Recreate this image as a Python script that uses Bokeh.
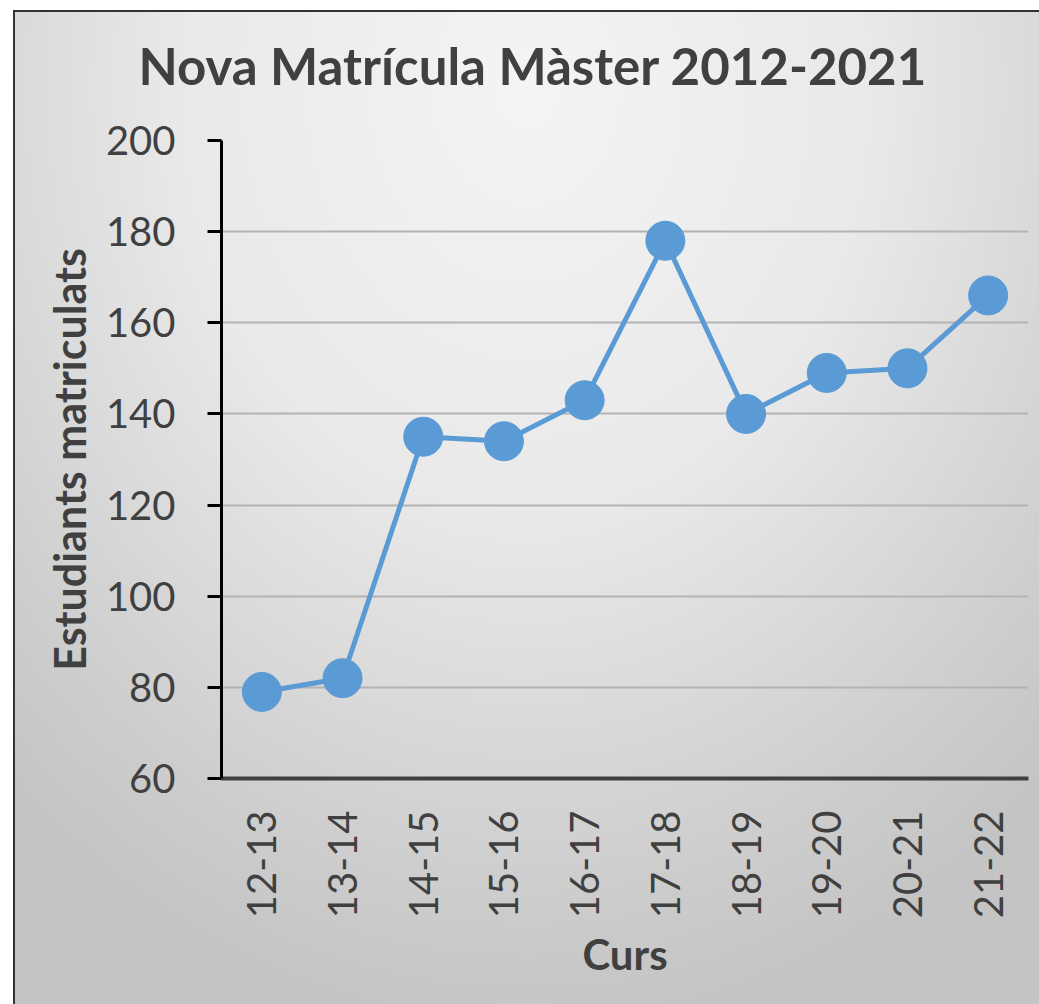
import math
from bokeh.plotting import figure
from bokeh.models import Range1d, FactorRange, Title
from bokeh.embed import file_html
from bokeh.resources import INLINE

cursos = ["12-13", "13-14", "14-15", "15-16", "16-17", "17-18", "18-19", "19-20", "20-21", "21-22"]
estudiants = [79, 82, 135, 134, 143, 178, 140, 149, 150, 166]
y_ticks = [60, 80, 100, 120, 140, 160, 180, 200]

TXT = "#404040"
FONT = "Lato"

p = figure(
    width=1026, height=994,
    x_range=FactorRange(*cursos, range_padding=0),
    y_range=Range1d(60, 200),
    output_backend="svg", toolbar_location=None,
    title="Nova Matrícula Màster 2012-2021",
    min_border_left=208, min_border_top=130, min_border_right=11, min_border_bottom=226,
)
p.margin = (10, 0, 0, 13)
p.border_fill_color = None
p.background_fill_color = None
p.outline_line_color = None
p.styles = {
    "background": "radial-gradient(ellipse 75% 95% at 50% 8%, #f4f4f4 0%, #e9e9e9 45%, #cdcdcd 85%, #c4c4c4 100%)",
    "box-shadow": "inset 2px 2px 0 0 #333333",
}

p.title.text_font = FONT
p.title.text_font_style = "bold"
p.title.text_font_size = "51px"
p.title.text_color = TXT
p.title.align = "left"
p.title.vertical_align = "top"
p.title.offset = -83
p.title.standoff = 0

# empty spacer between the title and the plot area
p.add_layout(Title(text=" ", text_font_size="10px", standoff=30), "above")

p.line(x=cursos, y=estudiants, line_color="#5b9bd5", line_width=5)
p.scatter(x=cursos, y=estudiants, size=39, fill_color="#5b9bd5", line_color="#5b9bd5")

p.yaxis.ticker = y_ticks
p.yaxis.axis_line_color = "black"
p.yaxis.axis_line_width = 3
p.yaxis.major_tick_line_color = "black"
p.yaxis.major_tick_line_width = 3
p.yaxis.major_tick_out = 14
p.yaxis.major_tick_in = 0
p.yaxis.minor_tick_line_color = None
p.yaxis.major_label_standoff = 32
p.yaxis.major_label_text_font = FONT
p.yaxis.major_label_text_font_size = "40px"
p.yaxis.major_label_text_color = TXT
p.yaxis.axis_label = "Estudiants matriculats"
p.yaxis.axis_label_text_font = FONT
p.yaxis.axis_label_text_font_style = "bold"
p.yaxis.axis_label_text_font_size = "43px"
p.yaxis.axis_label_text_color = TXT
p.yaxis.axis_label_standoff = 8

p.xaxis.axis_line_color = "#404040"
p.xaxis.axis_line_width = 4
p.xaxis.major_tick_line_color = None
p.xaxis.major_tick_out = 0
p.xaxis.major_tick_in = 0
p.xaxis.major_label_orientation = math.pi / 2
p.xaxis.major_label_standoff = 32
p.xaxis.major_label_text_font = FONT
p.xaxis.major_label_text_font_size = "40px"
p.xaxis.major_label_text_color = TXT
p.xaxis.axis_label = "Curs"
p.xaxis.axis_label_text_font = FONT
p.xaxis.axis_label_text_font_style = "bold"
p.xaxis.axis_label_text_font_size = "42px"
p.xaxis.axis_label_text_color = TXT
p.xaxis.axis_label_standoff = 8

p.xgrid.grid_line_color = None
p.ygrid.ticker = y_ticks
p.ygrid.grid_line_color = "#b3b3b3"
p.ygrid.grid_line_width = 2

open("out.html", "w").write(file_html(p, INLINE))
